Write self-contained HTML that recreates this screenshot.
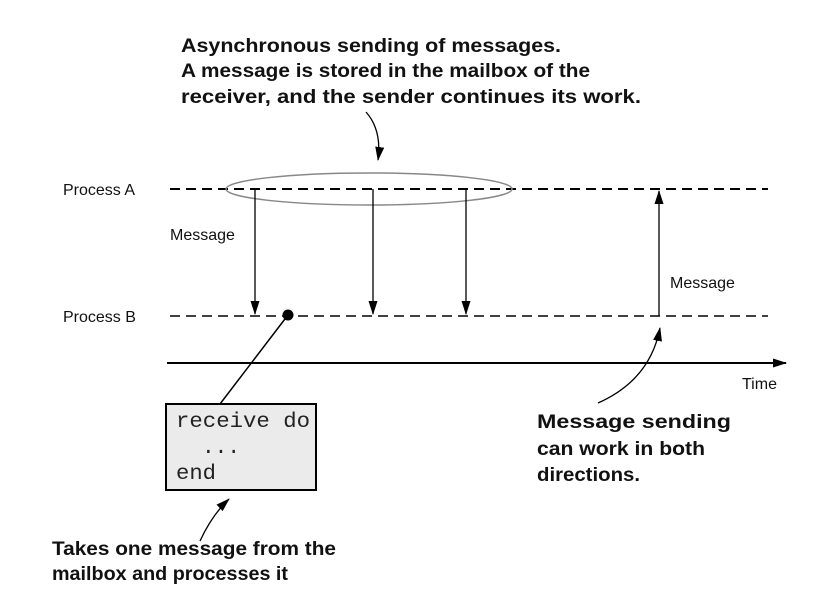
<!DOCTYPE html>
<html><head><style>body{margin:0;background:#fff}svg{display:block}</style></head><body>
<svg width="819" height="615" viewBox="0 0 819 615" xmlns="http://www.w3.org/2000/svg">
<defs><marker id="ah" markerWidth="14" markerHeight="10" refX="13" refY="4.5" orient="auto" markerUnits="userSpaceOnUse"><path d="M0,0 L14,4.5 L0,9 z" fill="#000"/></marker></defs>
<g font-family="Liberation Sans Narrow, Liberation Sans, sans-serif" font-weight="bold" font-size="19" fill="#111">
<text x="181" y="52" textLength="380" lengthAdjust="spacingAndGlyphs">Asynchronous sending of messages.</text>
<text x="181" y="77" textLength="409" lengthAdjust="spacingAndGlyphs">A message is stored in the mailbox of the</text>
<text x="181" y="103" textLength="460" lengthAdjust="spacingAndGlyphs">receiver, and the sender continues its work.</text>
<text x="537" y="428" textLength="194" lengthAdjust="spacingAndGlyphs">Message sending</text>
<text x="537" y="455" textLength="168" lengthAdjust="spacingAndGlyphs">can work in both</text>
<text x="537" y="481" textLength="103" lengthAdjust="spacingAndGlyphs">directions.</text>
<text x="52" y="555" textLength="284" lengthAdjust="spacingAndGlyphs">Takes one message from the</text>
<text x="52" y="580" textLength="236" lengthAdjust="spacingAndGlyphs">mailbox and processes it</text>
</g>
<g font-family="Liberation Sans, sans-serif" font-size="16" fill="#111">
<text x="63" y="195">Process A</text>
<text x="63" y="322">Process B</text>
<text x="170" y="240">Message</text>
<text x="670" y="288">Message</text>
<text x="742" y="389">Time</text>
</g>
<g stroke="#000" stroke-width="1.5" stroke-dasharray="10,6" fill="none">
<line x1="170" y1="189" x2="768" y2="189" stroke-width="2"/>
<line x1="170" y1="316" x2="768" y2="316"/>
</g>
<ellipse cx="369" cy="189" rx="143" ry="16" fill="none" stroke="#888" stroke-width="1.5"/>
<g stroke="#000" stroke-width="1.3" fill="none" marker-end="url(#ah)">
<line x1="255" y1="189" x2="255" y2="314"/>
<line x1="373" y1="189" x2="373" y2="314"/>
<line x1="466" y1="189" x2="466" y2="314"/>
<line x1="659" y1="316" x2="659" y2="191"/>
<line x1="167" y1="363" x2="786" y2="363" stroke-width="2"/>
<path d="M366,112 Q382,130 378,160"/>
<path d="M598,403 Q650,380 660,328"/>
<path d="M200,541 Q212,515 229,499"/>
</g>
<line x1="288" y1="315" x2="220" y2="404" stroke="#000" stroke-width="1.5"/>
<circle cx="288" cy="315" r="5.5" fill="#000"/>
<rect x="166" y="404" width="150" height="86" fill="#ebebeb" stroke="#000" stroke-width="2"/>
<g font-family="Liberation Mono, monospace" font-size="21" fill="#222">
<text x="176" y="427" textLength="134" lengthAdjust="spacingAndGlyphs">receive do</text>
<text x="202" y="453" textLength="38" lengthAdjust="spacingAndGlyphs">...</text>
<text x="176" y="479" textLength="40" lengthAdjust="spacingAndGlyphs">end</text>
</g>
</svg>
</body></html>
